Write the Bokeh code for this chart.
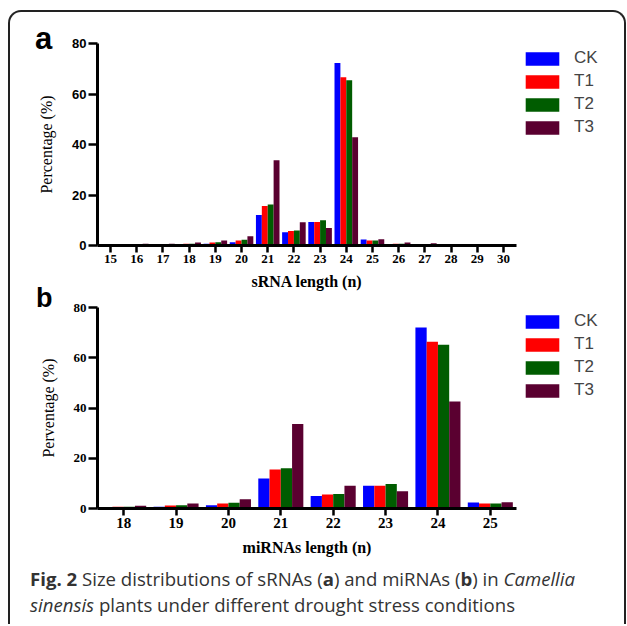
from bokeh.plotting import figure
from bokeh.models import Legend, LegendItem, Div, FactorRange, Range1d, FixedTicker, GridBox
from bokeh.transform import dodge
from bokeh.embed import file_html
from bokeh.resources import INLINE

groups = ["CK", "T1", "T2", "T3"]
colors = ["#0000FF", "#FF0000", "#005C00", "#5A0030"]

srna_lengths = ["15", "16", "17", "18", "19", "20", "21", "22", "23", "24", "25", "26", "27", "28", "29", "30"]
srna_CK = [0.05, 0.1, 0.2, 0.4, 0.7, 1.3, 12.1, 5.2, 9.3, 72.3, 2.4, 0.5, 0.5, 0.3, 0.05, 0.0]
srna_T1 = [0.05, 0.1, 0.2, 0.7, 1.2, 2.0, 15.6, 5.7, 9.3, 66.6, 2.0, 0.7, 0.5, 0.6, 0.05, 0.0]
srna_T2 = [0.05, 0.1, 0.2, 0.7, 1.3, 2.3, 16.2, 5.9, 10.0, 65.4, 2.0, 0.7, 0.5, 0.5, 0.05, 0.0]
srna_T3 = [0.05, 0.7, 0.7, 1.2, 2.0, 3.7, 33.8, 9.2, 6.9, 42.9, 2.5, 1.2, 0.9, 0.6, 0.05, 0.0]

mirna_lengths = ["18", "19", "20", "21", "22", "23", "24", "25"]
mirna_CK = [0.4, 0.7, 1.3, 11.9, 5.0, 9.1, 72.0, 2.4]
mirna_T1 = [0.7, 1.2, 2.0, 15.5, 5.6, 9.1, 66.4, 2.0]
mirna_T2 = [0.7, 1.3, 2.3, 16.0, 5.8, 9.8, 65.2, 2.0]
mirna_T3 = [1.1, 2.0, 3.7, 33.6, 9.1, 6.9, 42.6, 2.5]

y_ticks = [0, 20, 40, 60, 80]

SERIF = "Liberation Serif"
SANS = "Liberation Sans"
W = 614


def make_panel(lengths, series, height, borders, bar_w, ylabel, xlabel,
               xtick_size, ytick_font, ytick_size, xlabel_standoff):
    left, right, top, bottom = borders
    data = {"length": lengths}
    for g, s in zip(groups, series):
        data[g] = s
    p = figure(x_range=FactorRange(*lengths, range_padding=0), y_range=Range1d(0, 80),
               width=W, height=height, output_backend="svg", toolbar_location=None,
               min_border_left=left, min_border_right=right, min_border_top=top,
               min_border_bottom=bottom, frame_align=False)
    p.outline_line_color = None
    p.xgrid.visible = False
    p.ygrid.visible = False
    p.background_fill_color = None
    p.border_fill_color = None

    offsets = [-1.5 * bar_w, -0.5 * bar_w, 0.5 * bar_w, 1.5 * bar_w]
    for g, c, off in zip(groups, colors, offsets):
        p.vbar(x=dodge("length", off, range=p.x_range), top=g, width=bar_w,
               source=data, fill_color=c, line_color=None)

    p.yaxis.ticker = FixedTicker(ticks=y_ticks)
    for ax in (p.xaxis[0], p.yaxis[0]):
        ax.axis_line_width = 3
        ax.axis_line_color = "black"
        ax.major_tick_line_width = 2.5
        ax.major_tick_line_color = "black"
        ax.major_tick_in = 0
        ax.minor_tick_line_color = None
        ax.major_label_text_color = "black"
        ax.axis_label_text_color = "black"
    p.xaxis.major_tick_out = 7
    p.xaxis.major_label_standoff = 2
    p.xaxis.major_label_text_font = SERIF
    p.xaxis.major_label_text_font_style = "bold"
    p.xaxis.major_label_text_font_size = xtick_size
    p.xaxis.axis_label = xlabel
    p.xaxis.axis_label_text_font = SERIF
    p.xaxis.axis_label_text_font_style = "bold"
    p.xaxis.axis_label_text_font_size = "16px"
    p.xaxis.axis_label_standoff = xlabel_standoff

    p.yaxis.major_tick_out = 9
    p.yaxis.major_label_standoff = 2
    p.yaxis.major_label_text_font = ytick_font
    p.yaxis.major_label_text_font_style = "bold"
    p.yaxis.major_label_text_font_size = ytick_size
    p.yaxis.axis_label = ylabel
    p.yaxis.axis_label_text_font = SERIF
    p.yaxis.axis_label_text_font_style = "normal"
    p.yaxis.axis_label_text_font_size = "16px"
    p.yaxis.axis_label_standoff = 14
    return p


def make_legend_overlay(height, top, bottom):
    # transparent overlay whose frame sits right of the panel's frame;
    # its zero-height proxy bars only carry the legend swatches
    q = figure(x_range=Range1d(0, 1), y_range=Range1d(0, 1), width=W, height=height,
               output_backend="svg", toolbar_location=None,
               x_axis_location=None, y_axis_location=None,
               min_border_left=506, min_border_right=0, min_border_top=top,
               min_border_bottom=bottom, frame_align=False)
    q.outline_line_color = None
    q.xgrid.visible = False
    q.ygrid.visible = False
    q.background_fill_color = None
    q.border_fill_color = None
    items = []
    for g, c in zip(groups, colors):
        r = q.vbar(x=[0.5], top=[0], bottom=[0], width=0.0, fill_color=c, line_color=None)
        items.append(LegendItem(label=g, renderers=[r]))
    legend = Legend(items=items, location=(5, 108), border_line_color=None,
                    background_fill_alpha=0, padding=0, margin=0, spacing=3,
                    glyph_width=42, glyph_height=17, label_height=14,
                    label_standoff=11, label_text_font=SANS,
                    label_text_font_size="17px")
    q.add_layout(legend)
    return q


pa = make_panel(srna_lengths, [srna_CK, srna_T1, srna_T2, srna_T3], 280,
                (87, 108, 31, 47), 0.225, "Percentage (%)", "sRNA length (n)",
                "13px", SANS, "13px", 7)
pb = make_panel(mirna_lengths, [mirna_CK, mirna_T1, mirna_T2, mirna_T3], 269,
                (87, 108, 15, 53), 0.215, "Perventage (%)", "miRNAs length (n)",
                "15px", SERIF, "13px", 8)
leg_a = make_legend_overlay(280, 31, 47)
leg_b = make_legend_overlay(269, 15, 53)

letter_a = Div(text="a", width=W - 20, height=45, align="start",
               styles={"font-family": "'Liberation Sans'", "font-weight": "bold",
                       "font-size": "31px", "line-height": "31px", "color": "black",
                       "padding-left": "20px", "padding-top": "6px"})
letter_b = Div(text="b", width=W - 21, height=30, align="start",
               styles={"font-family": "'Liberation Sans'", "font-weight": "bold",
                       "font-size": "27px", "line-height": "2px", "color": "black",
                       "padding-left": "21px", "padding-top": "0px", "overflow": "visible"})

caption = Div(
    text=("<b>Fig. 2</b> Size distributions of sRNAs (<b>a</b>) and miRNAs (<b>b</b>) in "
          "<i>Camellia</i><br><i>sinensis</i> plants under different drought stress conditions"),
    width=W - 15, height=63,
    styles={"font-family": "'Open Sans'", "font-size": "18.6px", "line-height": "26px",
            "color": "#333333", "padding-left": "15px", "padding-top": "0px"})

layout = GridBox(children=[(letter_a, 0, 0), (pa, 0, 0), (leg_a, 0, 0),
                           (letter_b, 1, 0), (pb, 1, 0), (leg_b, 1, 0),
                           (caption, 2, 0)],
                 spacing=0, cols="614px", rows=["280px", "269px", "63px"],
                 styles={"border-top": "2px solid #222222", "border-left": "2px solid #222222",
                         "border-right": "2px solid #222222",
                         "border-radius": "13px 13px 0 0",
                         "margin-left": "8px", "margin-top": "10px"})

open("out.html", "w").write(file_html(layout, INLINE))
